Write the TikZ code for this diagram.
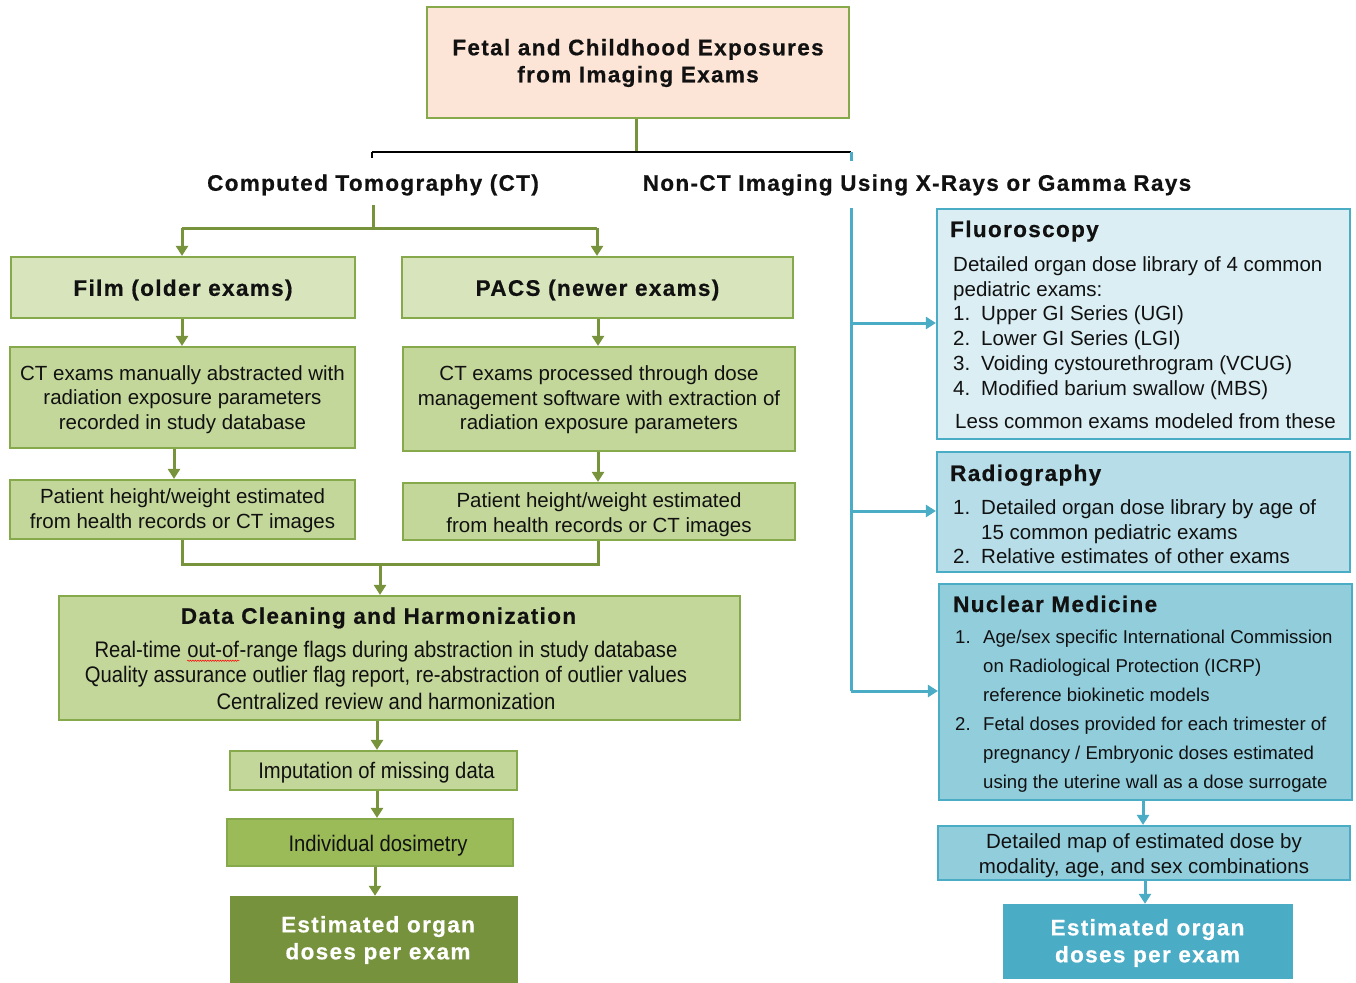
\documentclass[tikz,border=0pt]{standalone}
\usepackage{fontspec}
\setmainfont{Liberation Sans}
\newfontfamily\hfont[LetterSpace=6,BoldFeatures={FakeBold=0.6}]{Liberation Sans}
\newfontfamily\nfont[FakeStretch=0.9]{Liberation Sans}
\usetikzlibrary{arrows.meta,decorations.pathmorphing}
\definecolor{gborder}{HTML}{86A94C}
\definecolor{garrow}{HTML}{77933C}
\definecolor{peach}{HTML}{FCE4D6}
\definecolor{gl1}{HTML}{D8E4BC}
\definecolor{gl2}{HTML}{C4D79B}
\definecolor{gmid}{HTML}{9BBB59}
\definecolor{gdark}{HTML}{76923C}
\definecolor{bborder}{HTML}{4BACC6}
\definecolor{bl1}{HTML}{DAEEF3}
\definecolor{bl2}{HTML}{B7DEE8}
\definecolor{bl3}{HTML}{92CDDC}
\definecolor{bdark}{HTML}{4BACC6}
\definecolor{ink}{HTML}{111111}
\newcommand\wavyul[1]{\tikz[baseline=(w.base)]{\node[inner sep=0pt,text=ink](w){#1};\draw[red,line width=0.5pt,decorate,decoration={snake,amplitude=0.7pt,segment length=2.5pt}] ([yshift=-2.5pt]w.south west) -- ([yshift=-2.5pt]w.south east);}}
\begin{document}
\begin{tikzpicture}[x=1pt,y=-1pt,
  box/.style={rectangle,draw,line width=2.2pt,inner sep=0pt},
  gbox/.style={box,draw=gborder},
  bbox/.style={box,draw=bborder},
  body/.style={inner sep=0pt,text=ink,align=center,font=\fontsize{20.5}{24.5}\selectfont},
  narrowtxt/.style={font=\nfont\fontsize{22.5}{24.5}\selectfont,text=ink,inner sep=0pt},
  hd/.style={inner sep=0pt,text=ink,align=center,font=\hfont\bfseries\fontsize{22.5}{27}\selectfont},
  lst/.style={anchor=base west,inner sep=0pt,text=ink,font=\fontsize{20.5}{24.5}\selectfont},
  nlst/.style={anchor=base west,inner sep=0pt,text=ink,font=\fontsize{18.6}{29}\selectfont},
  garr/.style={draw=garrow,line width=3pt,-{Triangle[length=10pt,width=12pt]}},
  gline/.style={draw=garrow,line width=3pt},
  barr/.style={draw=bborder,line width=3pt,-{Triangle[length=10pt,width=12pt]}},
  bline/.style={draw=bborder,line width=3pt}]
\useasboundingbox (0,0) rectangle (1356,982);

% ---------- top ----------
\node[gbox,fill=peach,minimum width=422,minimum height=111] (top) at (638,62.5) {};
\node[hd] (topT) at ([yshift=-0.5pt]top.center) {Fetal and Childhood Exposures\\from Imaging Exams};
\coordinate (split) at (636,152);
\coordinate (sl) at (372,152);
\coordinate (sr) at (851,152);
\coordinate (slt) at (372,158);
\coordinate (srt) at (851,161);
\draw[gline] (top.south -| split) -- (split);
\draw[line width=2.5pt,black] (sl) -- (sr);
\draw[line width=2.5pt,black] (sl) -- (slt);
\draw[bline] (sr) -- (srt);

\node[hd] (ctlab) at (373,185) {Computed Tomography (CT)};
\node[hd] (nctlab) at (917,185) {Non-CT Imaging Using X-Rays or Gamma Rays};

% ---------- CT branch ----------
\coordinate (ct0) at (373,205);
\coordinate (ct1) at (373,228);
\coordinate (ctL) at (182,228);
\coordinate (ctR) at (597,228);

\node[gbox,fill=gl1,minimum width=344,minimum height=61] (film) at (183,287.5) {};
\node[hd] (filmT) at ([yshift=-2.5pt]film.center) {Film (older exams)};
\node[gbox,fill=gl1,minimum width=391,minimum height=61] (pacs) at (597.5,287.5) {};
\node[hd] (pacsT) at ([yshift=-2.5pt]pacs.center) {PACS (newer exams)};

\draw[gline] (ct0) -- (ct1);
\draw[gline] (ctL) -- (ctR);
\draw[garr] (ctL) -- (film.north -| ctL);
\draw[garr] (ctR) -- (pacs.north -| ctR);

\node[gbox,fill=gl2,minimum width=345,minimum height=101] (abs1) at (182.5,397.5) {};
\node[body] (abs1T) at ([yshift=-2pt]abs1.center)
  {CT exams manually abstracted with\\radiation exposure parameters\\recorded in study database};
\node[gbox,fill=gl2,minimum width=392,minimum height=104] (abs2) at (599,399) {};
\node[body] (abs2T) at ([yshift=-1pt]abs2.center)
  {CT exams processed through dose\\management software with extraction of\\radiation exposure parameters};
\node[gbox,fill=gl2,minimum width=345,minimum height=59] (pt1) at (182.5,509.5) {};
\node[body] (pt1T) at ([yshift=-1pt]pt1.center)
  {Patient height/weight estimated\\from health records or CT images};
\node[gbox,fill=gl2,minimum width=392,minimum height=57] (pt2) at (599,511.5) {};
\node[body] (pt2T) at ([yshift=-3pt]pt2.center)
  {Patient height/weight estimated\\from health records or CT images};

\coordinate (xa) at (182,0);
\coordinate (xb) at (174,0);
\coordinate (xc) at (598,0);
\draw[garr] (film.south -| xa) -- (abs1.north -| xa);
\draw[garr] (pacs.south -| xc) -- (abs2.north -| xc);
\draw[garr] (abs1.south -| xb) -- (pt1.north -| xb);
\draw[garr] (abs2.south -| xc) -- (pt2.north -| xc);

\coordinate (jL) at (182,564);
\coordinate (jR) at (598,564);
\coordinate (jM) at (380,564);
\draw[gline] (pt1.south -| jL) -- (jL) -- (jR) -- (pt2.south -| jR);

\node[gbox,fill=gl2,minimum width=681,minimum height=124] (clean) at (399.5,658) {};
\draw[garr] (jM) -- (clean.north -| jM);
\node[hd] (cleanT) at (378.5,618) {Data Cleaning and Harmonization};
\node[narrowtxt] (cl1) at (386,652) {Real-time \wavyul{out-of}-range flags during abstraction in study database};
\node[narrowtxt] (cl2) at (386,677) {Quality assurance outlier flag report, re-abstraction of outlier values};
\node[narrowtxt] (cl3) at (386,701) {Centralized review and harmonization};

\node[gbox,fill=gl2,minimum width=287,minimum height=39] (imp) at (373.5,770.5) {};
\node[narrowtxt] (impT) at (376.5,772.5) {Imputation of missing data};
\node[gbox,fill=gmid,minimum width=286,minimum height=47] (ind) at (370,842.5) {};
\node[narrowtxt] (indT) at (378,845.5) {Individual dosimetry};
\node[rectangle,fill=gdark,draw=gdark,minimum width=287,minimum height=86,inner sep=0pt] (est1) at (373.5,939) {};
\node[hd,text=white] (est1T) at (378,940) {Estimated organ\\doses per exam};

\coordinate (xd) at (377,0);
\coordinate (xe) at (375,0);
\draw[garr] (clean.south -| xd) -- (imp.north -| xd);
\draw[garr] (imp.south -| xd) -- (ind.north -| xd);
\draw[garr] (ind.south -| xe) -- (est1.north -| xe);

% ---------- non-CT branch ----------
\node[bbox,fill=bl1,minimum width=413,minimum height=230] (fluo) at (1143.5,324) {};
\node[bbox,fill=bl2,minimum width=413,minimum height=120] (radio) at (1143.5,512) {};
\node[bbox,fill=bl3,minimum width=413,minimum height=216] (nuc) at (1145.5,692) {};

\coordinate (bt) at (851,208);
\coordinate (b1) at (851,323);
\coordinate (b2) at (851,511);
\coordinate (b3) at (851,691);
\draw[bline] (bt) -- (b3);
\draw[barr] (b1) -- (fluo.west |- b1);
\draw[barr] (b2) -- (radio.west |- b2);
\draw[barr] (b3) -- (nuc.west |- b3);

\node[hd,anchor=base west] (fluoT) at (950,237) {Fluoroscopy};
\node[lst] (f1) at (953,271) {Detailed organ dose library of 4 common};
\node[lst] (f2) at (953,296) {pediatric exams:};
\node[lst] (f3n) at (953,320) {1.};
\node[lst] (f3) at (981,320) {Upper GI Series (UGI)};
\node[lst] (f4n) at (953,345) {2.};
\node[lst] (f4) at (981,345) {Lower GI Series (LGI)};
\node[lst] (f5n) at (953,370) {3.};
\node[lst] (f5) at (981,370) {Voiding cystourethrogram (VCUG)};
\node[lst] (f6n) at (953,395) {4.};
\node[lst] (f6) at (981,395) {Modified barium swallow (MBS)};
\node[lst] (f7) at (955,428) {Less common exams modeled from these};

\node[hd,anchor=base west] (radioT) at (950,481) {Radiography};
\node[lst] (r1n) at (953,514) {1.};
\node[lst] (r1) at (981,514) {Detailed organ dose library by age of};
\node[lst] (r1b) at (981,539) {15 common pediatric exams};
\node[lst] (r2n) at (953,563) {2.};
\node[lst] (r2) at (981,563) {Relative estimates of other exams};

\node[hd,anchor=base west] (nucT) at (953,612) {Nuclear Medicine};
\node[nlst] (n1n) at (955,643.5) {1.};
\node[nlst] (n1) at (983,643.5) {Age/sex specific International Commission};
\node[nlst] (n1b) at (983,672.5) {on Radiological Protection (ICRP)};
\node[nlst] (n1c) at (983,701.5) {reference biokinetic models};
\node[nlst] (n2n) at (955,730.5) {2.};
\node[nlst] (n2) at (983,730.5) {Fetal doses provided for each trimester of};
\node[nlst] (n2b) at (983,759.5) {pregnancy / Embryonic doses estimated};
\node[nlst] (n2c) at (983,788.5) {using the uterine wall as a dose surrogate};

\node[bbox,fill=bl3,minimum width=412,minimum height=54] (map) at (1144,853) {};
\node[body] (mapT) at ([yshift=-2.5pt]map.center)
  {Detailed map of estimated dose by\\modality, age, and sex combinations};
\node[rectangle,fill=bdark,draw=bdark,minimum width=289,minimum height=74,inner sep=0pt] (est2) at (1147.5,941) {};
\node[hd,text=white] (est2T) at (1147.5,943) {Estimated organ\\doses per exam};

\coordinate (xf) at (1143,0);
\coordinate (xg) at (1145,0);
\draw[barr] (nuc.south -| xf) -- (map.north -| xf);
\draw[barr] (map.south -| xg) -- (est2.north -| xg);
\end{tikzpicture}
\end{document}
